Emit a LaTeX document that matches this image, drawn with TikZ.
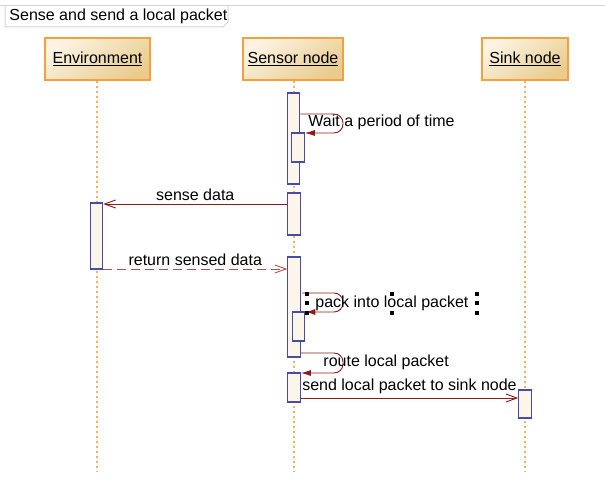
\documentclass[tikz,border=0pt]{standalone}
\usepackage{fontspec}
\setmainfont{Liberation Sans}
\usepackage{tikz}
\usetikzlibrary{arrows.meta}
\definecolor{hdrtop}{HTML}{FCF3E2}
\definecolor{hdrbot}{HTML}{E9CC8E}
\definecolor{hdrline}{HTML}{F5A040}
\definecolor{lifecol}{HTML}{F8B060}
\definecolor{actfill}{HTML}{FCF6EA}
\definecolor{actline}{HTML}{4A4AA8}
\definecolor{msgcol}{HTML}{8E1B1B}
\definecolor{framecol}{HTML}{D4D0EA}
\tikzstyle{seq}=[
  x=1pt, y=-1pt, font=\fontsize{16}{18}\selectfont, line width=0.9pt
]
\tikzstyle{lifehead}=[
  draw=hdrline, line width=1.2pt, top color=hdrtop, bottom color=hdrbot, shading angle=35,
  minimum height=42pt, inner sep=0pt, font=\fontsize{16}{18}\selectfont
]
\tikzstyle{lifeline}=[
  draw=lifecol, line width=1.2pt, dash pattern=on 2pt off 3pt
]
\tikzstyle{activation}=[
  draw=actline, line width=1.1pt, fill=actfill, inner sep=0pt, minimum width=12.5pt
]
\tikzstyle{call}=[
  draw=msgcol, -{Straight Barb[length=11pt,width=8pt]}
]
\tikzstyle{reply}=[
  call, dash pattern=on 9pt off 5pt, draw=msgcol!75
]
\tikzstyle{selfcall}=[
  draw=msgcol, rounded corners=9pt, -{Latex[length=10pt,width=6pt]}
]
\tikzstyle{handle}=[
  fill=black, inner sep=0pt, minimum size=4.5pt
]
\begin{document}
\begin{tikzpicture}[seq]
  \useasboundingbox (0,0) rectangle (605,486);
  % frame title
  \draw[framecol, line width=1pt] (0,6) -- (605,6);
  \draw[framecol, line width=1pt] (5,6) -- (5,27) -- (223,27) -- (228,22) -- (228,6);
  \node (title) at (9,16.5) [anchor=west, inner sep=0pt] {Sense and send a local packet};

  % lifelines
  \node (env) at (97.5,59) [lifehead, minimum width=105pt] {\underline{Environment}};
  \node (sensor) at (293,59) [lifehead, minimum width=100pt] {\underline{Sensor node}};
  \node (sink) at (525,59) [lifehead, minimum width=86pt] {\underline{Sink node}};
  \coordinate (envend) at (97,472);
  \coordinate (sensorend) at (294,472);
  \coordinate (sinkend) at (525,472);
  \draw[lifeline] (env.south -| envend) -- (envend);
  \draw[lifeline] (sensor.south -| sensorend) -- (sensorend);
  \draw[lifeline] (sink.south -| sinkend) -- (sinkend);

  % activations
  \node (s1) at (293.5,138.5) [activation, minimum height=91pt] {};
  \node (s1w) at (298,147.5) [activation, minimum height=29pt] {};
  \node (s2) at (294,214) [activation, minimum height=42pt] {};
  \node (e1) at (96.5,236) [activation, minimum height=66pt] {};
  \node (s3) at (294,307) [activation, minimum height=100pt] {};
  \node (s3p) at (298.5,326.5) [activation, minimum height=29pt] {};
  \node (s4) at (294,387.5) [activation, minimum height=29pt] {};
  \node (k1) at (525,404) [activation, minimum height=28pt] {};

  % wait
  \coordinate (wait1) at (s1.east |- 0,114);
  \coordinate (wait2) at (s1w.east |- 0,133);
  \draw[selfcall] (wait1) -- (343,114) -- (343,133) -- (wait2);
  \node (waitlbl) at (308,122) [anchor=west, inner sep=0pt] {Wait a period of time};

  % sense
  \coordinate (sense1) at (s2.west |- 0,204);
  \coordinate (sense2) at (e1.east |- 0,204);
  \draw[call] (sense1) -- (sense2) node[midway, above=0pt] {sense data};

  % return
  \coordinate (ret1) at (e1.east |- 0,269);
  \coordinate (ret2) at (s3.west |- 0,269);
  \draw[reply] (ret1) -- (ret2) node[midway, above=0pt] {return sensed data};

  % pack
  \coordinate (pack1) at (302,293);
  \coordinate (pack2) at (s3p.east |- 0,312);
  \draw[selfcall] (pack1) -- (343,293) -- (343,312) -- (pack2);
  \node (packlbl) at (315,303) [anchor=west, inner sep=0pt] {pack into local packet};
  \foreach \hx/\hy in {307/294, 307/303, 307/313, 392/294, 392/313, 477/294, 477/303, 477/313}
    \node[handle] at (\hx,\hy) {};

  % route
  \coordinate (route1) at (s3.east |- 0,353);
  \coordinate (route2) at (s4.east |- 0,373);
  \draw[selfcall] (route1) -- (343,353) -- (343,373) -- (route2);
  \node (routelbl) at (323,362) [anchor=west, inner sep=0pt] {route local packet};

  % send
  \coordinate (send1) at (s4.east |- 0,398);
  \coordinate (send2) at (k1.west |- 0,398);
  \draw[call] (send1) -- (send2) node[midway, above=0pt] {send local packet to sink node};
\end{tikzpicture}
\end{document}
